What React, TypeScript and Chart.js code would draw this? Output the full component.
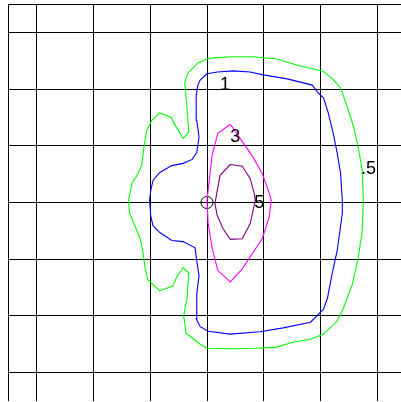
import React, { useEffect, useRef } from "react";
import { Chart, registerables } from "chart.js";

Chart.register(...registerables);

// Axis range and grid tick values (data units)
const axisMin = -3.5;
const axisMax = 3.5;
const tickValues = [-3.5, -3, -2, -1, 0, 1, 2, 3, 3.5];

// Contour level 0.5 (green)
const contourHalf = [
  [0, 2.53], [0.11, 2.55], [0.46, 2.57], [0.81, 2.57], [1.23, 2.53], [1.59, 2.42],
  [2.03, 2.32], [2.2, 2.19], [2.35, 2.02], [2.47, 1.68], [2.58, 1.33], [2.66, 0.97],
  [2.73, 0.57], [2.75, 0.04], [2.73, -0.5], [2.66, -0.97], [2.56, -1.43], [2.4, -1.86],
  [2.29, -2.09], [2.05, -2.32], [1.82, -2.41], [1.52, -2.46], [1.23, -2.55], [0.85, -2.57],
  [0.46, -2.58], [0, -2.57], [-0.12, -2.5], [-0.26, -2.39], [-0.37, -2.3], [-0.41, -2.0],
  [-0.35, -1.68], [-0.32, -1.24], [-0.42, -1.15], [-0.53, -1.31], [-0.6, -1.47], [-0.83, -1.56],
  [-1.04, -1.36], [-1.09, -1.15], [-1.13, -0.85], [-1.18, -0.62], [-1.27, -0.41], [-1.36, -0.19],
  [-1.38, 0.04], [-1.32, 0.34], [-1.23, 0.48], [-1.15, 0.65], [-1.11, 0.97], [-1.06, 1.27],
  [-0.97, 1.45], [-0.83, 1.58], [-0.63, 1.5], [-0.56, 1.36], [-0.42, 1.13], [-0.32, 1.24],
  [-0.35, 1.63], [-0.39, 2.11], [-0.34, 2.28], [-0.16, 2.46], [0, 2.53],
];

// Contour level 1 (blue)
const contourOne = [
  [0, 2.27], [0.18, 2.3], [0.46, 2.32], [0.76, 2.3], [0.99, 2.25], [1.41, 2.18],
  [1.85, 2.07], [1.94, 1.95], [2.05, 1.84], [2.13, 1.59], [2.22, 1.22], [2.29, 0.87],
  [2.35, 0.51], [2.38, 0.04], [2.38, -0.19], [2.29, -0.85], [2.2, -1.26], [2.12, -1.68],
  [2.05, -1.88], [1.82, -2.11], [1.34, -2.21], [0.93, -2.28], [0.41, -2.32], [0.02, -2.27],
  [-0.12, -2.19], [-0.19, -2.05], [-0.18, -1.61], [-0.14, -1.29], [-0.18, -1.03], [-0.21, -0.8],
  [-0.42, -0.69], [-0.62, -0.67], [-0.83, -0.53], [-0.95, -0.41], [-0.99, -0.23], [-1.01, 0.04],
  [-0.99, 0.21], [-0.95, 0.39], [-0.83, 0.53], [-0.62, 0.65], [-0.42, 0.69], [-0.26, 0.76],
  [-0.18, 0.88], [-0.14, 1.15], [-0.18, 1.45], [-0.19, 1.68], [-0.19, 1.89], [-0.16, 2.07],
  [-0.12, 2.16], [0, 2.27],
];

// Contour level 3 (magenta)
const contourThree = [
  [0.41, 1.38], [0.63, 1.06], [0.81, 0.8], [0.97, 0.51], [1.08, 0.21], [1.13, 0.04],
  [1.09, -0.27], [0.97, -0.64], [0.62, -1.17], [0.41, -1.4], [0.19, -1.2], [0.09, -0.8],
  [0.02, -0.37], [0, 0.04], [0.09, 0.83], [0.19, 1.22], [0.41, 1.38],
];

// Contour level 5 (purple)
const contourFive = [
  [0.41, 0.67], [0.62, 0.64], [0.76, 0.42], [0.83, 0.16], [0.85, 0.04], [0.81, -0.14],
  [0.76, -0.37], [0.62, -0.64], [0.41, -0.65], [0.28, -0.46], [0.18, -0.23], [0.14, -0.02],
  [0.18, 0.21], [0.23, 0.48], [0.41, 0.67],
];

// Source marker
const sourcePoint = [[0, 0]];

// Contour labels: text, x, y (data units, left/baseline)
const labelTexts = ["1", "3", ".5", "5"];
const labelX = [0.23, 0.41, 2.71, 0.83];
const labelY = [1.98, 1.06, 0.51, -0.09];

const toXY = (arr: number[][]) => arr.map(([x, y]) => ({ x, y }));

const labelPlugin = {
  id: "contourLabels",
  afterDatasetsDraw(chart: any) {
    const { ctx, scales } = chart;
    ctx.save();
    ctx.fillStyle = "#000";
    ctx.font = '18px "Liberation Sans", Arial, sans-serif';
    ctx.textAlign = "left";
    ctx.textBaseline = "alphabetic";
    labelTexts.forEach((t, i) => {
      ctx.fillText(t, scales.x.getPixelForValue(labelX[i]), scales.y.getPixelForValue(labelY[i]));
    });
    ctx.restore();
  },
};

export default function App() {
  const ref = useRef<HTMLCanvasElement>(null);
  useEffect(() => {
    if (!ref.current) return;
    const lineDs = (data: number[][], color: string) => ({
      data: toXY(data),
      showLine: true,
      borderColor: color,
      backgroundColor: color,
      borderWidth: 1.1,
      pointRadius: 0,
      tension: 0,
      fill: false,
    });
    const scaleOpts = {
      type: "linear" as const,
      min: axisMin,
      max: axisMax,
      afterBuildTicks: (scale: any) => {
        scale.ticks = tickValues.map((v) => ({ value: v }));
      },
      ticks: { display: false },
      grid: { color: "#000", lineWidth: 1, drawTicks: false },
      border: { color: "#000", width: 1 },
    };
    const chart = new Chart(ref.current, {
      type: "scatter",
      data: {
        datasets: [
          lineDs(contourHalf, "#00ff00"),
          lineDs(contourOne, "#0000ff"),
          lineDs(contourThree, "#ff00ff"),
          lineDs(contourFive, "#800080"),
          {
            data: toXY(sourcePoint),
            showLine: false,
            pointRadius: 6,
            pointBorderWidth: 1,
            borderColor: "#000",
            backgroundColor: "rgba(0,0,0,0)",
          } as any,
        ],
      },
      options: {
        animation: false,
        responsive: false,
        maintainAspectRatio: false,
        layout: { padding: 0, autoPadding: false },
        plugins: { legend: { display: false }, tooltip: { enabled: false } },
        scales: { x: { ...scaleOpts, position: "bottom" }, y: { ...scaleOpts, position: "left" } },
      } as any,
      plugins: [labelPlugin],
    });
    return () => chart.destroy();
  }, []);
  return (
    <div style={{ position: "absolute", left: 0, top: 0, width: 401, height: 402, overflow: "hidden", background: "#fff" }}>
      <canvas
        ref={ref}
        width={398}
        height={397}
        style={{ position: "absolute", left: 8, top: 4, width: 398, height: 397 }}
      />
    </div>
  );
}
